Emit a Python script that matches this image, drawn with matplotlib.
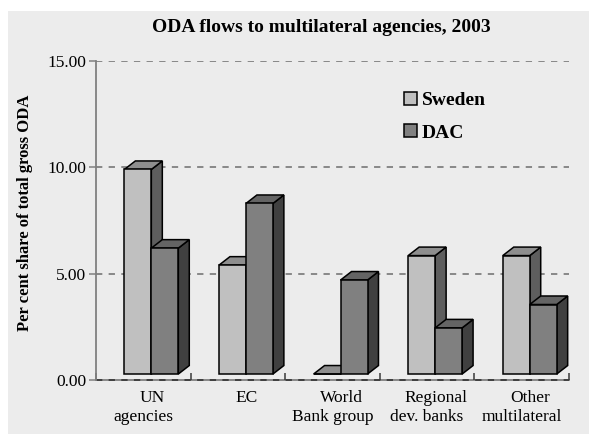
import numpy as np
import matplotlib.pyplot as plt
from matplotlib.patches import Rectangle, Polygon, Patch

# donnees
labels_top = ['UN', 'EC', 'World', 'Regional', 'Other']
labels_bottom = ['agencies', '', 'Bank group', 'dev. banks', 'multilateral']
sweden = [9.9, 5.4, 0.0, 5.85, 5.85]
dac = [6.2, 8.3, 4.7, 2.45, 3.55]
yticks = [0, 5, 10, 15]

plt.rcParams['font.family'] = ['Liberation Serif', 'DejaVu Serif']

fig = plt.figure(figsize=(5.91, 4.34), dpi=100)
fig.patch.set_facecolor('white')
fig.patches.append(Rectangle((8 / 591, 0), 581 / 591, 1 - 11 / 434, transform=fig.transFigure,
                             facecolor='#ececec', edgecolor='none', zorder=-5))

ax = fig.add_axes([96 / 591, 1 - 380 / 434, 473 / 591, 319 / 434])
ax.set_facecolor('none')
ax.set_xlim(-0.5, 4.5)
ax.set_ylim(0, 15)

# style des barres 3D
w = 0.285
shift = 0.085
dx = 0.116
dy = 0.4
floor = 0.28
series = [
    (sweden, '#c0c0c0', '#8e8e8e', '#5e5e5e', -1),
    (dac, '#808080', '#646464', '#404040', 0),
]
ek = dict(edgecolor='black', linewidth=1.1, joinstyle='miter', zorder=3)

for vals, c_front, c_top, c_side, pos in series:
    for i, v in enumerate(vals):
        x0 = i + shift + pos * w
        top = max(v, floor)
        ax.add_patch(Polygon([(x0 + w, floor), (x0 + w + dx, floor + dy),
                              (x0 + w + dx, top + dy), (x0 + w, top)], facecolor=c_side, **ek))
        ax.add_patch(Polygon([(x0, top), (x0 + w, top), (x0 + w + dx, top + dy),
                              (x0 + dx, top + dy)], facecolor=c_top, **ek))
        ax.add_patch(Rectangle((x0, floor), w, top - floor, facecolor=c_front, **ek))

# grille
for t in yticks[1:]:
    ax.axhline(t, color='#808080', lw=1.3, ls=(0, (3.5, 3.5)), zorder=1)
ax.axhline(0, color='#808080', lw=1.3, zorder=1, clip_on=False)
ax.axhline(0, color='#3a3a3a', lw=1.3, ls=(0, (3.5, 3.5)), zorder=2, clip_on=False)

for s in ['top', 'right', 'bottom']:
    ax.spines[s].set_visible(False)
ax.spines['left'].set_color('#808080')
ax.spines['left'].set_linewidth(1.3)

ax.set_yticks(yticks)
ax.set_yticklabels([f'{t:.2f}' for t in yticks], fontsize=12.5)
ax.tick_params(axis='y', length=5, width=1.1, color='#808080', pad=2)
ax.set_xticks(np.arange(-0.5, 5, 1))
ax.set_xticklabels([])
ax.tick_params(axis='x', direction='in', length=5, width=1.1, color='#3a3a3a')

for i in range(len(labels_top)):
    ax.annotate(labels_top[i], xy=(i, 0), xycoords=('data', 'axes fraction'),
                xytext=(8.5, -18), textcoords='offset pixels', ha='center', va='center', fontsize=12.5)
    ax.annotate(labels_bottom[i], xy=(i, 0), xycoords=('data', 'axes fraction'),
                xytext=(0, -37), textcoords='offset pixels', ha='center', va='center', fontsize=12.5)

fig.text(321 / 591, 1 - 28 / 434, 'ODA flows to multilateral agencies, 2003',
         ha='center', va='center', fontsize=14, fontweight='bold')
fig.text(25 / 591, 1 - 213 / 434, 'Per cent share of total gross ODA', rotation=90,
         ha='center', va='center', fontsize=12, fontweight='bold')

handles = [Patch(facecolor='#c0c0c0', edgecolor='black', lw=1.1),
           Patch(facecolor='#808080', edgecolor='black', lw=1.1)]
leg = ax.legend(handles, ['Sweden', 'DAC'], loc='upper left', bbox_to_anchor=(404 / 591, 1 - 92 / 434),
                bbox_transform=fig.transFigure, frameon=False, handlelength=0.65, handleheight=0.65,
                handletextpad=0.25, labelspacing=0.78, borderpad=0, borderaxespad=0,
                prop={'size': 14, 'weight': 'bold'})

fig.savefig('out.png', dpi=100)
